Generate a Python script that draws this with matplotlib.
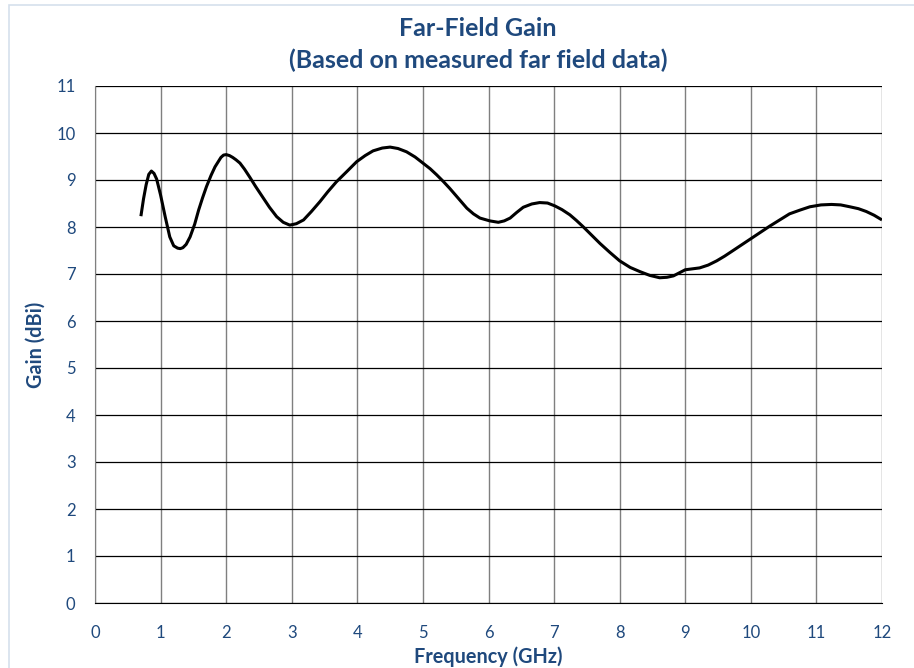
import matplotlib
matplotlib.use("Agg")
import matplotlib.pyplot as plt
from matplotlib.patches import Rectangle

# Gain
freq_ghz = [0.70, 0.74, 0.78, 0.82, 0.86, 0.90, 0.94, 1.00, 1.07, 1.14, 1.20,
            1.26, 1.30, 1.34, 1.39, 1.45, 1.52, 1.58, 1.64, 1.70, 1.77, 1.83,
            1.92, 1.96, 2.00, 2.05, 2.10, 2.15, 2.21, 2.28, 2.36, 2.45, 2.55,
            2.66, 2.77, 2.87, 2.97, 3.07, 3.18, 3.30, 3.43, 3.55, 3.68, 3.84,
            3.99, 4.12, 4.24, 4.38, 4.50, 4.62, 4.75, 4.88, 5.00, 5.11, 5.21,
            5.31, 5.41, 5.54, 5.67, 5.77, 5.87, 6.02, 6.15, 6.24, 6.33, 6.43,
            6.53, 6.66, 6.78, 6.90, 7.01, 7.12, 7.24, 7.34, 7.44, 7.57, 7.70,
            7.85, 8.00, 8.16, 8.31, 8.46, 8.61, 8.72, 8.82, 9.00, 9.22, 9.35,
            9.48, 9.60, 9.73, 9.87, 10.01, 10.15, 10.29, 10.44, 10.59, 10.75,
            10.90, 11.07, 11.23, 11.37, 11.51, 11.64, 11.76, 11.88, 12.00]
gain_dbi = [8.23, 8.60, 8.90, 9.12, 9.19, 9.14, 9.02, 8.68, 8.22, 7.79, 7.60,
            7.55, 7.54, 7.56, 7.63, 7.79, 8.06, 8.36, 8.62, 8.86, 9.10, 9.28,
            9.48, 9.53, 9.54, 9.52, 9.48, 9.43, 9.36, 9.23, 9.06, 8.86, 8.65,
            8.42, 8.22, 8.10, 8.04, 8.07, 8.15, 8.33, 8.54, 8.75, 8.96, 9.18,
            9.39, 9.52, 9.62, 9.68, 9.70, 9.67, 9.60, 9.49, 9.36, 9.24, 9.11,
            8.97, 8.82, 8.61, 8.40, 8.28, 8.19, 8.13, 8.10, 8.13, 8.19, 8.31,
            8.42, 8.49, 8.52, 8.51, 8.45, 8.37, 8.26, 8.14, 8.01, 7.83, 7.65,
            7.46, 7.28, 7.14, 7.05, 6.97, 6.92, 6.93, 6.96, 7.09, 7.13, 7.19,
            7.28, 7.38, 7.50, 7.63, 7.76, 7.89, 8.02, 8.15, 8.28, 8.36,
            8.43, 8.47, 8.48, 8.47, 8.43, 8.39, 8.33, 8.25, 8.15]

x_ticks = list(range(0, 13))
y_ticks = list(range(0, 12))

navy = "#1F497D"
plt.rcParams['font.family'] = ['Lato', 'DejaVu Sans']

fig = plt.figure(figsize=(9.14, 6.68), dpi=100)
fig.patches.append(Rectangle((9 / 914, -0.1), 1.2, 1 - 5 / 668 + 0.1,
                             transform=fig.transFigure, fill=False,
                             edgecolor="#D6E0EC", linewidth=1.2))

ax = fig.add_axes([95 / 914, 1 - 603 / 668, (882 - 95) / 914, (603 - 86) / 668])
ax.plot(freq_ghz, gain_dbi, color="black", linewidth=2.2,
        solid_joinstyle="round", solid_capstyle="butt")

ax.set_xlim(0, 12)
ax.set_ylim(0, 11)
ax.set_xticks(x_ticks)
ax.set_yticks(y_ticks)
ax.tick_params(length=0, labelsize=12, colors=navy)
ax.tick_params(axis="x", pad=16)
ax.tick_params(axis="y", pad=14)

ax.grid(axis="y", color="black", linewidth=0.9)
ax.grid(axis="x", color="#7F7F7F", linewidth=1.0)
ax.set_axisbelow(True)
for side in ["top", "right"]:
    ax.spines[side].set_visible(False)
ax.spines["left"].set_color("#7F7F7F")
ax.spines["bottom"].set_color("black")

ax.set_xlabel("Frequency (GHz)", fontsize=14.3, fontweight="bold", color=navy, labelpad=4)
ax.set_ylabel("Gain (dBi)", fontsize=14.3, fontweight="bold", color=navy, labelpad=8)

fig.text(478 / 914, 1 - 28 / 668, "Far-Field Gain", ha="center", va="center",
         fontsize=18, fontweight="bold", color=navy)
fig.text(478 / 914, 1 - 60 / 668, "(Based on measured far field data)", ha="center",
         va="center", fontsize=18, fontweight="bold", color=navy)

fig.savefig("out.png", dpi=100)
